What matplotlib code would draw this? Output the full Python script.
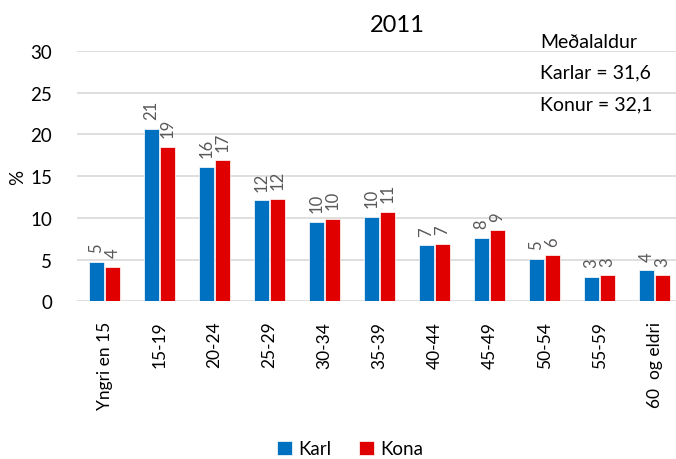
import numpy as np
import matplotlib.pyplot as plt

plt.rcParams['font.family'] = ['Lato', 'DejaVu Sans']

# data
groups = ['Yngri en 15', '15-19', '20-24', '25-29', '30-34', '35-39',
          '40-44', '45-49', '50-54', '55-59', '60  og eldri']
karl = [4.7, 20.7, 16.1, 12.1, 9.5, 10.1, 6.7, 7.6, 5.1, 2.9, 3.7]
kona = [4.1, 18.5, 16.9, 12.3, 9.9, 10.7, 6.9, 8.5, 5.5, 3.1, 3.1]
karl_lbl = ['5', '21', '16', '12', '10', '10', '7', '8', '5', '3', '4']
kona_lbl = ['4', '19', '17', '12', '10', '11', '7', '9', '6', '3', '3']

blue = '#0070C0'
red = '#E00000'

fig = plt.figure(figsize=(6.76, 4.6), dpi=100)
ax = fig.add_axes([0.114, 0.343, 0.895, 0.544])

x = np.arange(len(groups))
w = 0.28
b1 = ax.bar(x - w/2 - 0.005, karl, w, color=blue, label='Karl', edgecolor='white', linewidth=0.5)
b2 = ax.bar(x + w/2 + 0.005, kona, w, color=red, label='Kona', edgecolor='white', linewidth=0.5)

for bars, lbls in ((b1, karl_lbl), (b2, kona_lbl)):
    for r, t in zip(bars, lbls):
        ax.annotate(t, (r.get_x() + r.get_width()/2, r.get_height()),
                    xytext=(0, 7), textcoords='offset points',
                    rotation=90, ha='center', va='bottom',
                    fontsize=12, color='#595959')

ax.set_ylim(0, 30)
ax.set_xlim(-0.5, len(groups) - 0.5)
ax.set_yticks(range(0, 31, 5))
ax.yaxis.grid(True, color='#D9D9D9', linewidth=1.2)
ax.set_axisbelow(True)
for s in ax.spines.values():
    s.set_visible(False)
ax.tick_params(length=0)
ax.tick_params(axis='y', labelsize=13.5, pad=18)
ax.tick_params(axis='x', labelsize=12.5, pad=14)
ax.set_xticks(x)
ax.set_xticklabels(groups, rotation=90, va='top')
ax.set_ylabel('%', fontsize=13.5)
ax.yaxis.set_label_coords(-0.085, 0.5)

fig.text(397/676, 1 - 25/460, '2011', fontsize=17, ha='center', va='center')
fig.text(540/676, 1 - 42/460, 'Meðalaldur', fontsize=14, va='center')
fig.text(540/676, 1 - 73/460, 'Karlar = 31,6', fontsize=14, va='center')
fig.text(540/676, 1 - 105/460, 'Konur = 32,1', fontsize=14, va='center')

fig.legend(handles=[b1, b2], loc='center', bbox_to_anchor=(350/676, 1 - 450/460),
           ncol=2, frameon=False, fontsize=13.5, handlelength=0.8, handleheight=0.8,
           handletextpad=0.3, columnspacing=1.5)

fig.savefig('out.png', dpi=100)
